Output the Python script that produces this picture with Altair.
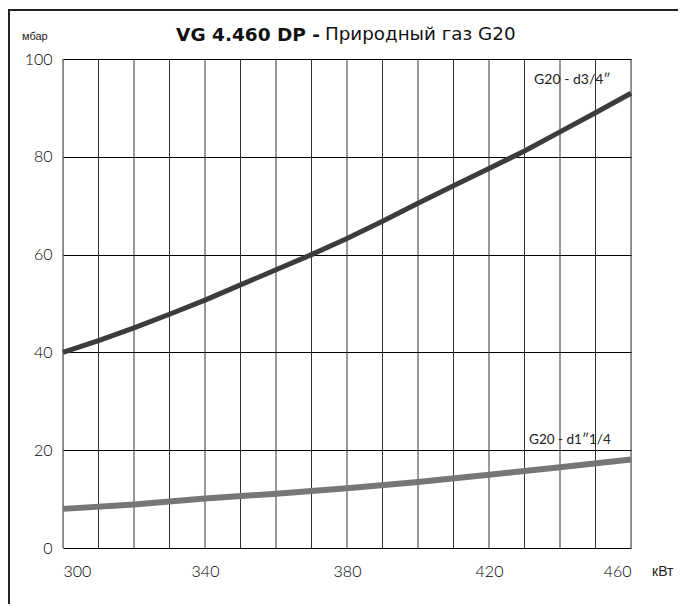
import altair as alt
import pandas as pd

# ---- data ----
load_upper = [300, 310, 320, 330, 340, 350, 360, 370, 380, 390, 400, 410, 420, 430, 440, 450, 460]
dp_d34 = [40.0, 42.4, 45.0, 47.8, 50.7, 53.8, 56.9, 60.0, 63.3, 66.8, 70.5, 74.1, 77.6, 81.2, 85.1, 89.0, 93.0]

load_lower = [300, 320, 340, 360, 380, 400, 420, 440, 460]
dp_d114 = [8.0, 8.9, 10.1, 11.1, 12.2, 13.5, 15.0, 16.5, 18.1]

series_names = ["G20 - d3/4\u2033", "G20 - d1\u20331/4"]
x_grid_values = list(range(300, 461, 10))
x_label_values = [300, 340, 380, 420, 460]
y_tick_values = [0, 20, 40, 60, 80, 100]

W, H = 568, 489
FONT = "Lato"
TFONT = "DejaVu Sans"

df = pd.concat([
    pd.DataFrame({"kw": load_upper, "mbar": dp_d34, "s": series_names[0]}),
    pd.DataFrame({"kw": load_lower, "mbar": dp_d114, "s": series_names[1]}),
])
grid_df = pd.DataFrame({"kw": x_grid_values})

xs = alt.Scale(domain=[300, 460], nice=False, zero=False)
ys = alt.Scale(domain=[0, 100], nice=False)

vgrid = alt.Chart(grid_df).mark_rule(color="#333", strokeWidth=1).encode(
    x=alt.X("kw:Q", scale=xs, axis=alt.Axis(
        values=x_label_values, title=None, grid=False, ticks=False, domain=False,
        labelFont=FONT, labelFontSize=16, labelFontWeight=300, labelColor="#000",
        labelPadding=15)),
)

lines = alt.Chart(df).mark_line(strokeCap="butt", strokeJoin="round").encode(
    x=alt.X("kw:Q", scale=xs),
    y=alt.Y("mbar:Q", scale=ys, axis=alt.Axis(
        values=y_tick_values, title=None, grid=True, gridColor="#000", gridWidth=1,
        ticks=False, domain=False, labelFont=FONT, labelFontSize=16, labelFontWeight=300,
        labelColor="#000", labelPadding=11)),
    color=alt.Color("s:N", scale=alt.Scale(domain=series_names, range=["#3c3c3c", "#767676"]), legend=None),
    strokeWidth=alt.StrokeWidth("s:N", scale=alt.Scale(domain=series_names, range=[5, 6]), legend=None),
)

lbl1 = alt.Chart().mark_text(align="left", baseline="middle", font=FONT, fontSize=14, color="#222").encode(
    x=alt.datum(432.7, scale=xs), y=alt.datum(95.7, scale=ys), text=alt.value(series_names[0]))
lbl2 = alt.Chart().mark_text(align="left", baseline="middle", font=FONT, fontSize=13.5, color="#222").encode(
    x=alt.datum(431.3, scale=xs), y=alt.datum(22.1, scale=ys), text=alt.value(series_names[1]))

title_bold = alt.Chart().mark_text(align="right", baseline="middle", font=TFONT, fontSize=18.5,
                                   fontWeight="bold", color="#111").encode(
    x=alt.value(257), y=alt.value(-24), text=alt.value("VG 4.460 DP -"))
title_reg = alt.Chart().mark_text(align="left", baseline="middle", font=TFONT, fontSize=18.3,
                                  color="#111").encode(
    x=alt.value(262), y=alt.value(-24), text=alt.value("Природный газ G20"))

unit_y = alt.Chart().mark_text(align="left", baseline="middle", font="Liberation Sans Narrow, Liberation Sans",
                               fontSize=11, color="#222").encode(
    x=alt.value(-41), y=alt.value(-22), text=alt.value("мбар"))
unit_x = alt.Chart().mark_text(align="left", baseline="middle", font="Liberation Sans Narrow, Liberation Sans",
                               fontSize=14, color="#222").encode(
    x=alt.value(589), y=alt.value(H + 24), text=alt.value("кВт"))

frame = alt.Chart().mark_rect(fill=None, stroke="#222", strokeWidth=2).encode(
    x=alt.value(-54), x2=alt.value(W + 80), y=alt.value(-49), y2=alt.value(H + 80))

chart = alt.layer(frame, vgrid, lines, lbl1, lbl2, title_bold, title_reg, unit_y, unit_x).properties(
    width=W, height=H,
    autosize=alt.AutoSizeParams(type="none"),
    padding={"left": 55, "top": 51, "right": 47, "bottom": 56},
).configure_view(stroke="#111", strokeWidth=1.5).configure(background="white")

chart.save("out.html", embed_options={"renderer": "svg", "actions": False})
